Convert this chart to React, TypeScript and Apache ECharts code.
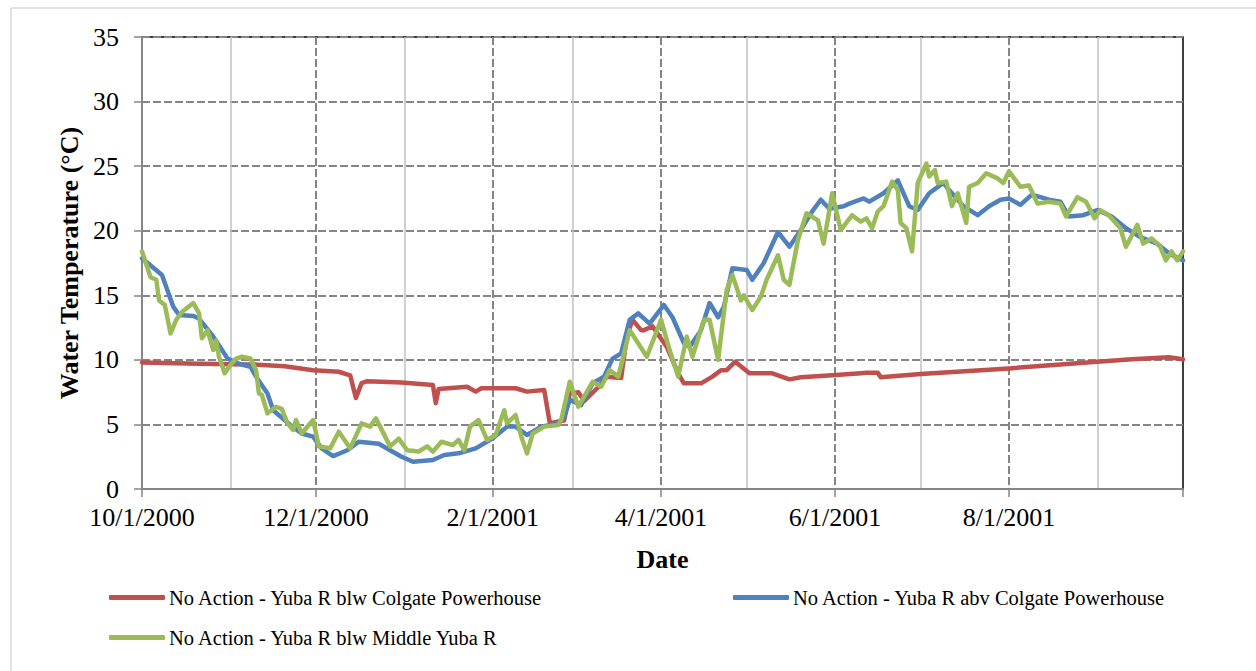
import React, { useEffect, useRef } from "react";
import * as echarts from "echarts";

// ---- Axis / category definitions ----
const START_YEAR = 2000;
const START_MONTH = 9; // October (0-based)
const DAY_COUNT = 366; // 10/1/2000 .. 10/1/2001
const majorTickLabels = ["10/1/2000", "12/1/2000", "2/1/2001", "4/1/2001", "6/1/2001", "8/1/2001"];
const minorMonthStarts = ["11/1/2000", "1/1/2001", "3/1/2001", "5/1/2001", "7/1/2001", "9/1/2001"];
const axisEndDate = "10/1/2001";
const yTicks = { min: 0, max: 35, interval: 5 };

const seriesNames = [
  "No Action - Yuba R blw Colgate Powerhouse",
  "No Action - Yuba R abv Colgate Powerhouse",
  "No Action - Yuba R blw Middle Yuba R",
];
const seriesColors = ["#C0504D", "#4F81BD", "#9BBB59"];

// ---- Data: day offset from 10/1/2000 and temperature (°C) ----
const redDays = [0, 8, 20, 38, 50, 60, 69, 73, 75, 77, 79, 91, 102, 103, 104, 114, 117, 119, 131, 135, 141, 143, 148, 150, 153, 155, 160, 163, 168, 170, 172, 175, 176, 179, 184, 188, 190, 196, 200, 203, 205, 208, 213, 221, 227, 231, 242, 252, 254, 258, 259, 273, 304, 335, 347, 360, 365];
const redTemps = [9.8, 9.75, 9.7, 9.65, 9.5, 9.2, 9.08, 8.8, 7.05, 8.2, 8.35, 8.25, 8.05, 6.65, 7.74, 7.92, 7.54, 7.8, 7.8, 7.54, 7.67, 5.1, 5.3, 7.4, 7.5, 6.8, 7.9, 8.7, 8.6, 11.8, 13.1, 12.3, 12.3, 12.6, 11.0, 8.96, 8.18, 8.18, 8.7, 9.2, 9.2, 9.86, 8.96, 8.96, 8.49, 8.65, 8.8, 8.96, 9.0, 9.0, 8.65, 8.9, 9.34, 9.86, 10.04, 10.2, 10.04];

const blueDays = [0, 7, 11, 13, 18, 20, 25, 30, 34, 38, 40, 44, 46, 52, 56, 60, 63, 67, 72, 76, 83, 91, 95, 102, 106, 111, 117, 123, 128, 131, 135, 140, 146, 148, 150, 154, 158, 162, 165, 168, 171, 174, 178, 183, 186, 190, 192, 196, 199, 202, 204, 207, 212, 214, 218, 223, 227, 231, 235, 238, 241, 246, 248, 253, 255, 260, 265, 269, 272, 276, 281, 283, 288, 293, 297, 301, 304, 308, 312, 318, 322, 325, 330, 335, 340, 345, 350, 356, 360, 365];
const blueTemps = [17.86, 16.57, 14.1, 13.47, 13.4, 13.2, 11.8, 10.1, 9.7, 9.47, 8.7, 7.4, 6.1, 4.96, 4.3, 4.05, 3.15, 2.55, 3.0, 3.66, 3.5, 2.5, 2.11, 2.25, 2.63, 2.76, 3.15, 3.93, 4.83, 4.83, 4.18, 4.83, 5.08, 5.6, 6.9, 6.5, 8.2, 8.7, 10.1, 10.5, 13.1, 13.6, 12.8, 14.25, 13.3, 11.3, 11.0, 12.3, 14.4, 13.3, 14.1, 17.1, 16.96, 16.2, 17.5, 19.9, 18.76, 20.05, 21.5, 22.4, 21.7, 21.9, 22.1, 22.5, 22.25, 22.9, 23.9, 21.9, 21.6, 22.9, 23.7, 23.15, 21.9, 21.2, 21.9, 22.4, 22.5, 22.0, 22.8, 22.4, 22.25, 21.1, 21.2, 21.6, 21.1, 20.2, 19.5, 19.0, 18.25, 17.7];

const greenDays = [0, 3, 5, 6, 8, 10, 12, 14, 18, 20, 21, 23, 25, 26, 27, 29, 31, 33, 35, 38, 40, 41, 42, 44, 47, 49, 51, 53, 54, 56, 60, 62, 66, 69, 73, 77, 80, 82, 87, 90, 93, 97, 100, 102, 105, 109, 111, 113, 115, 118, 121, 124, 127, 128, 131, 133, 135, 137, 141, 146, 147, 150, 153, 158, 161, 164, 167, 171, 177, 182, 185, 188, 191, 193, 197, 199, 202, 205, 207, 210, 211, 214, 217, 219, 223, 225, 227, 230, 233, 237, 239, 242, 245, 249, 252, 254, 256, 258, 260, 263, 265, 266, 268, 270, 272, 275, 276, 278, 279, 282, 284, 286, 289, 290, 293, 296, 300, 302, 304, 308, 311, 314, 318, 322, 324, 328, 331, 334, 336, 339, 343, 345, 349, 351, 354, 357, 359, 361, 363, 365];
const greenTemps = [18.4, 16.4, 16.2, 14.6, 14.25, 12.05, 13.1, 13.7, 14.4, 13.6, 11.67, 12.3, 10.76, 11.5, 10.24, 8.96, 9.6, 10.1, 10.24, 10.1, 9.2, 7.4, 7.3, 5.86, 6.37, 6.2, 5.08, 4.57, 5.34, 4.3, 5.34, 3.3, 3.15, 4.44, 3.15, 5.08, 4.83, 5.47, 3.3, 3.9, 3.0, 2.9, 3.3, 2.9, 3.66, 3.4, 3.8, 3.0, 4.83, 5.34, 3.8, 4.18, 6.1, 5.08, 5.73, 4.05, 2.76, 4.3, 4.83, 4.96, 5.34, 8.3, 6.37, 8.3, 7.92, 9.2, 8.7, 12.3, 10.24, 13.1, 10.76, 8.7, 11.8, 10.24, 13.1, 13.1, 10.0, 15.4, 16.57, 14.6, 15.0, 13.86, 14.9, 16.2, 18.1, 16.2, 15.8, 19.3, 21.35, 20.8, 19.0, 22.9, 20.05, 21.2, 20.7, 20.96, 20.2, 21.5, 21.9, 23.8, 23.15, 20.6, 20.2, 18.4, 23.7, 25.2, 24.2, 24.7, 23.7, 23.8, 21.9, 22.9, 20.6, 23.4, 23.7, 24.45, 24.05, 23.7, 24.6, 23.4, 23.5, 22.1, 22.25, 22.1, 21.1, 22.6, 22.25, 20.96, 21.6, 21.2, 20.2, 18.76, 20.45, 19.0, 19.4, 18.76, 17.7, 18.4, 17.7, 18.4];

const categories: string[] = Array.from({ length: DAY_COUNT }, (_, i) => {
  const d = new Date(START_YEAR, START_MONTH, 1 + i);
  return `${d.getMonth() + 1}/${d.getDate()}/${d.getFullYear()}`;
});

const FONT = "'Liberation Serif', 'Times New Roman', serif";

export default function App() {
  const ref = useRef<HTMLDivElement>(null);
  useEffect(() => {
    if (!ref.current) return;
    const chart = echarts.init(ref.current, null, { renderer: "svg" });
    const pairs = (days: number[], temps: number[]) => days.map((d, i) => [d, temps[i]]);
    const dashed = { color: "#858585", width: 2, type: [8, 3] as any };
    const legendBase = {
      icon: "roundRect",
      itemWidth: 56,
      itemHeight: 5,
      itemGap: 5,
      padding: 0,
      textStyle: { fontFamily: FONT, fontSize: 20.5, color: "#000", padding: [0, 0, 0, -1] },
      selectedMode: false,
    };
    chart.setOption({
      animation: false,
      backgroundColor: "#fff",
      textStyle: { fontFamily: FONT },
      graphic: [
        {
          type: "rect",
          shape: { x: 11, y: 8, width: 1300, height: 700 },
          style: { fill: "none", stroke: "#c6c6c6", lineWidth: 1 },
          silent: true,
        },
      ],
      grid: {
        left: 142,
        right: 73,
        top: 37,
        bottom: 182,
        show: true,
        borderColor: "#000",
        borderWidth: 1.5,
        backgroundColor: "transparent",
      },
      legend: [
        { ...legendBase, data: [seriesNames[0]], left: 109, top: 587 },
        { ...legendBase, data: [seriesNames[1]], left: 733, top: 587 },
        { ...legendBase, data: [seriesNames[2]], left: 109, top: 627 },
      ],
      xAxis: [
        {
          type: "category",
          data: categories,
          boundaryGap: false,
          name: "Date",
          nameLocation: "middle",
          nameGap: 57,
          nameTextStyle: { fontFamily: FONT, fontSize: 26, fontWeight: "bold", color: "#000" },
          axisLine: { show: true, lineStyle: { color: "#868686", width: 2 } },
          axisTick: {
            show: true,
            length: 8,
            interval: (_i: number, v: string) => majorTickLabels.includes(v) || v === axisEndDate,
            lineStyle: { color: "#868686", width: 1.5 },
          },
          axisLabel: {
            interval: (_i: number, v: string) => majorTickLabels.includes(v),
            fontFamily: FONT,
            fontSize: 26,
            color: "#000",
            margin: 15,
          },
          splitLine: {
            show: true,
            interval: (_i: number, v: string) => majorTickLabels.includes(v) && v !== majorTickLabels[0],
            lineStyle: dashed,
          },
          z: 3,
        },
        {
          type: "category",
          data: categories,
          boundaryGap: false,
          axisLine: { show: false },
          axisTick: { show: false },
          axisLabel: { show: false },
          splitLine: {
            show: true,
            interval: (_i: number, v: string) => minorMonthStarts.includes(v),
            lineStyle: { color: "#c0c0c0", width: 1.5, type: "solid" },
          },
        },
      ],
      yAxis: {
        type: "value",
        min: yTicks.min,
        max: yTicks.max,
        interval: yTicks.interval,
        name: "Water Temperature (°C)",
        nameLocation: "middle",
        nameGap: 57,
        nameRotate: 90,
        nameTextStyle: { fontFamily: FONT, fontSize: 26, fontWeight: "bold", color: "#000" },
        axisLine: { show: true, lineStyle: { color: "#868686", width: 2 } },
        axisTick: { show: true, length: 8, lineStyle: { color: "#868686", width: 1.5 } },
        axisLabel: { fontFamily: FONT, fontSize: 26, color: "#000", margin: 23 },
        splitLine: { show: true, lineStyle: dashed },
      },
      series: [
        { days: redDays, temps: redTemps },
        { days: blueDays, temps: blueTemps },
        { days: greenDays, temps: greenTemps },
      ].map((s, k) => ({
        name: seriesNames[k],
        type: "line",
        xAxisIndex: 0,
        yAxisIndex: 0,
        data: pairs(s.days, s.temps),
        showSymbol: false,
        symbol: "none",
        color: seriesColors[k],
        lineStyle: { color: seriesColors[k], width: 4.5, join: "round", cap: "round" },
        itemStyle: { color: seriesColors[k] },
        z: 4 + k,
      })),
    });
    return () => chart.dispose();
  }, []);
  return <div ref={ref} style={{ position: "fixed", left: 0, top: 0, width: 1256, height: 671 }} />;
}
